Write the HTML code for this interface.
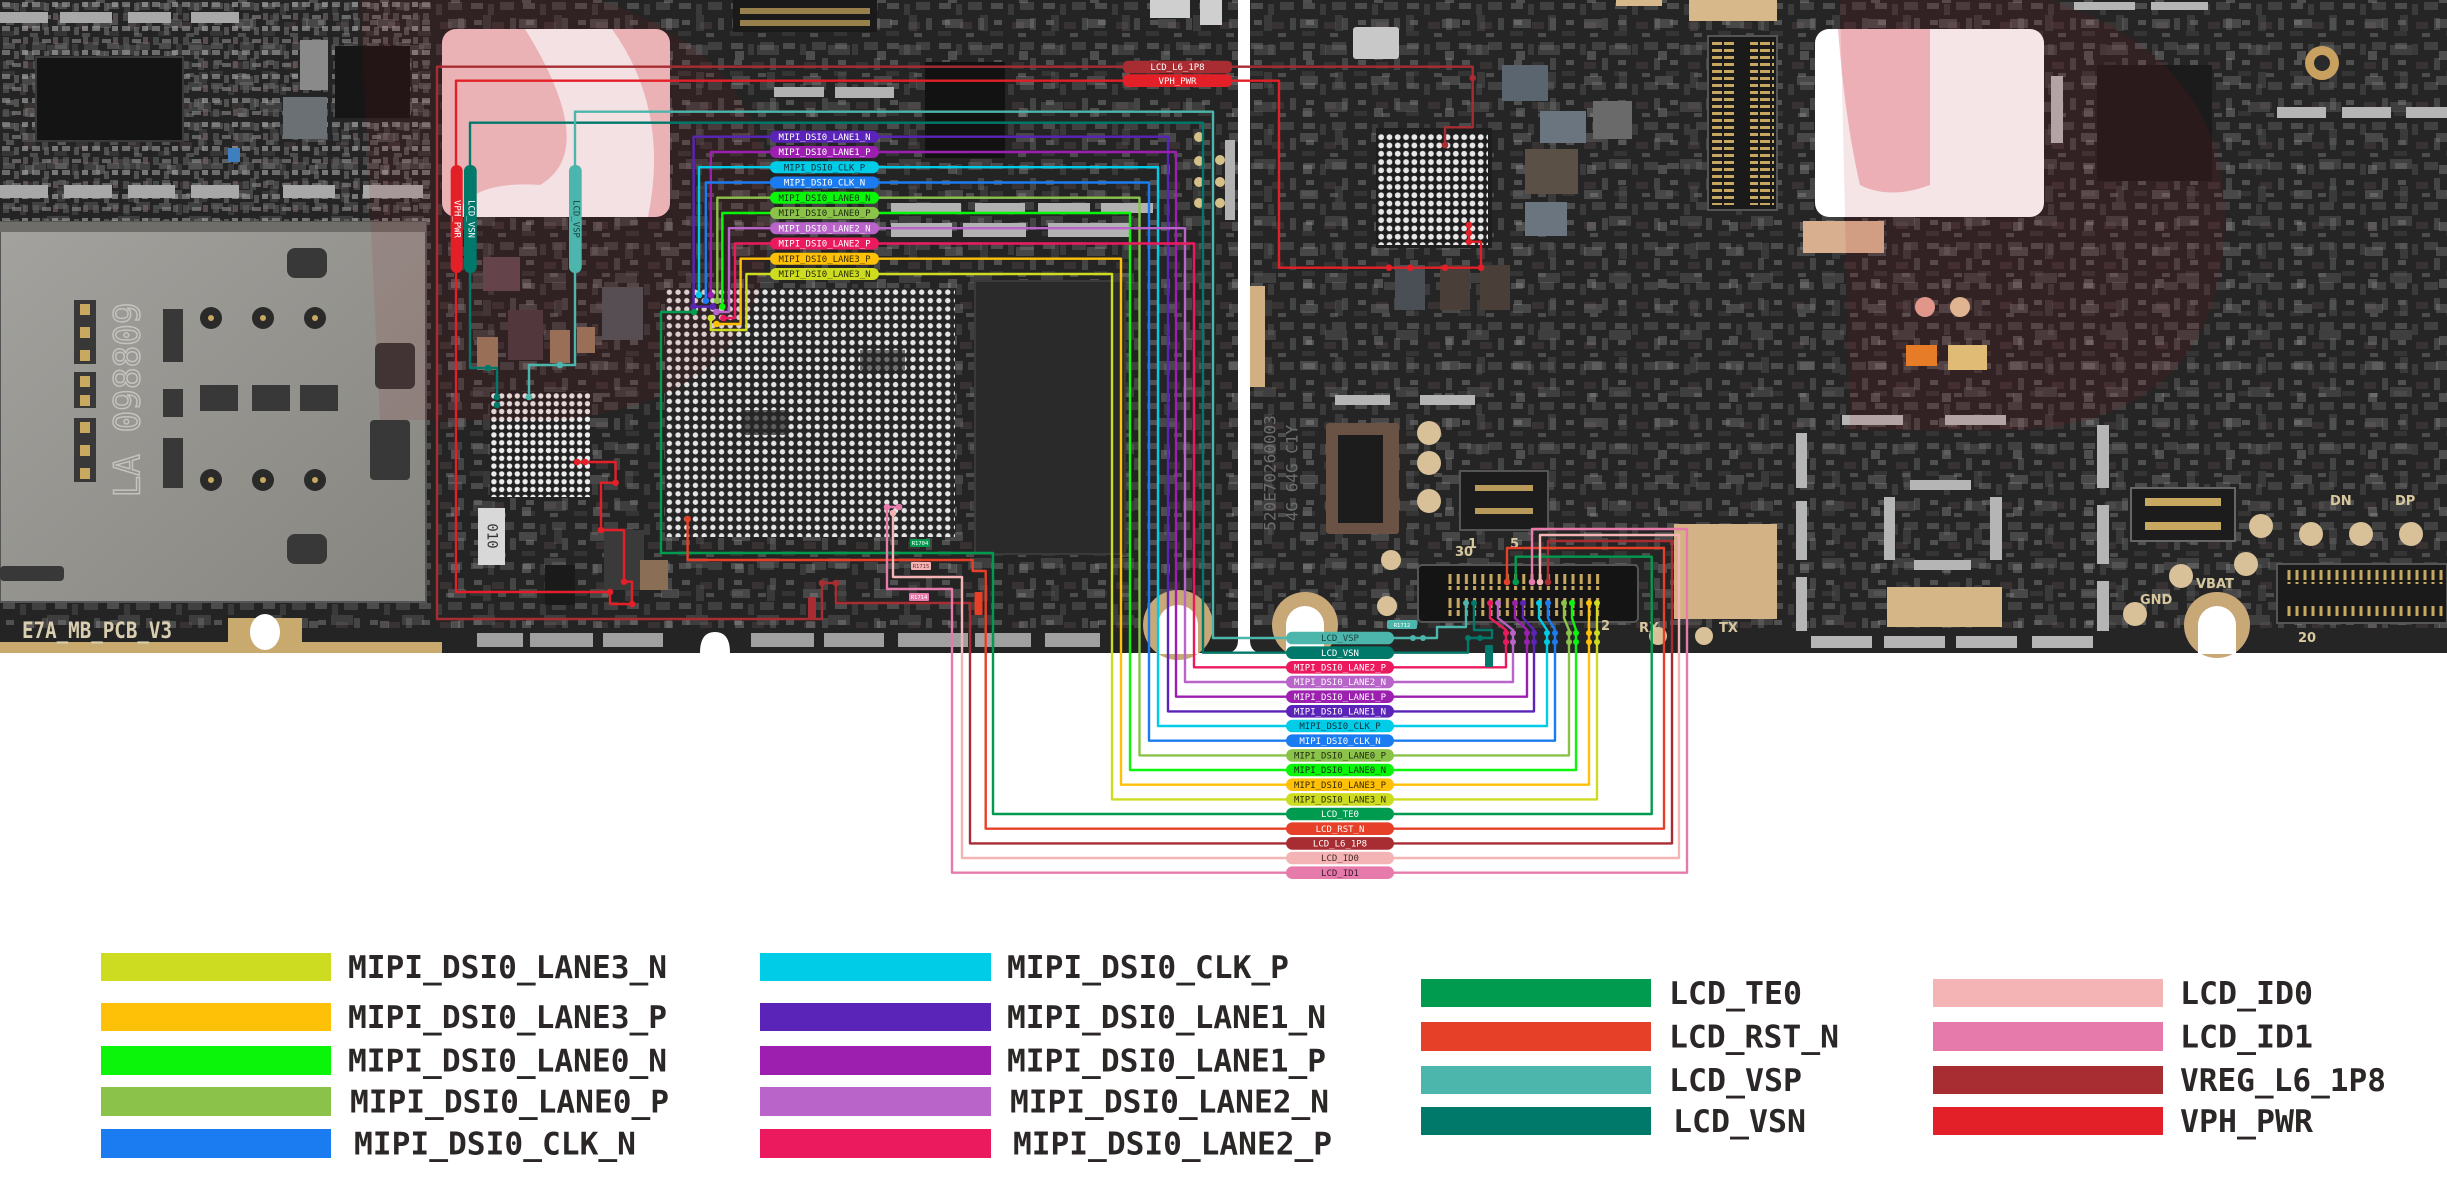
<!DOCTYPE html>
<html><head><meta charset="utf-8"><style>
html,body{margin:0;padding:0;background:#fff;}
svg{display:block;}
.lb{font-family:"DejaVu Sans Mono","Liberation Mono",monospace;font-size:9px;text-anchor:middle;}
.lg{font-family:"DejaVu Sans Mono","Liberation Mono",monospace;font-size:31px;font-weight:bold;fill:#2b2727;}
.ln{fill:none;stroke-width:2.4;stroke-linejoin:round;stroke-linecap:round;}
</style></head><body>
<svg width="2447" height="1179" viewBox="0 0 2447 1179" xmlns="http://www.w3.org/2000/svg">
<defs>
<pattern id="cmp" width="52" height="40" patternUnits="userSpaceOnUse">
<rect x="3" y="3" width="12" height="6" fill="#8c8c8c"/>
<rect x="20" y="4" width="6" height="11" fill="#5e5e5e"/>
<rect x="32" y="2" width="14" height="8" fill="#6e6e6e"/>
<rect x="6" y="20" width="8" height="5" fill="#9a9a9a"/>
<rect x="24" y="22" width="12" height="7" fill="#5a4848"/>
<rect x="42" y="18" width="6" height="12" fill="#7a7a7a"/>
<rect x="2" y="31" width="13" height="5" fill="#505050"/>
<rect x="30" y="33" width="8" height="4" fill="#8f8f8f"/>
</pattern>
<pattern id="cmpB" width="71" height="57" patternUnits="userSpaceOnUse" x="17" y="11">
<rect x="5" y="8" width="18" height="9" fill="#9a9a9a"/>
<rect x="40" y="4" width="8" height="16" fill="#6a6a6a"/>
<rect x="30" y="34" width="22" height="10" fill="#7c7c7c"/>
<rect x="8" y="40" width="9" height="9" fill="#b0b0b0"/>
</pattern>
<pattern id="cmp2" width="30" height="24" patternUnits="userSpaceOnUse">
<rect x="2" y="2" width="8" height="5" fill="#9a9a9a"/>
<rect x="14" y="3" width="5" height="8" fill="#707070"/>
<rect x="22" y="2" width="6" height="5" fill="#b0b0b0"/>
<rect x="3" y="13" width="6" height="8" fill="#606060"/>
<rect x="12" y="15" width="9" height="4" fill="#8a8a8a"/>
<rect x="23" y="13" width="5" height="7" fill="#7a6a6a"/>
</pattern>
<pattern id="bgaA" width="8.7" height="8.4" patternUnits="userSpaceOnUse" x="665" y="288"><circle cx="4.35" cy="4.2" r="2.7" fill="#e4e4e4"/></pattern>
<pattern id="bgaB" width="7.8" height="7.8" patternUnits="userSpaceOnUse" x="490" y="392"><circle cx="3.9" cy="3.9" r="2.7" fill="#ececec"/></pattern>
<pattern id="bgaC" width="8.3" height="8.3" patternUnits="userSpaceOnUse" x="1377" y="133"><circle cx="4.15" cy="4.15" r="2.9" fill="#e6e6e6"/></pattern>
<pattern id="pins" width="8.2" height="12" patternUnits="userSpaceOnUse" x="1446" y="574"><rect x="2.5" y="0" width="3" height="10" fill="#c8a860"/></pattern>
<pattern id="pins2" width="8" height="12" patternUnits="userSpaceOnUse" x="2285" y="570"><rect x="2.5" y="0" width="3" height="10" fill="#c8a860"/></pattern>
<pattern id="pinsV" width="12" height="7" patternUnits="userSpaceOnUse" x="1712" y="40"><rect x="0" y="2" width="10" height="3" fill="#c8a860"/></pattern>
<linearGradient id="sim" x1="0" y1="0" x2="1" y2="1"><stop offset="0" stop-color="#a3a29e"/><stop offset="1" stop-color="#86857f"/></linearGradient>
</defs>
<rect width="2447" height="1179" fill="#fff"/>

<!-- ===== BOARDS ===== -->
<path d="M0 0 H1238 V640 Q1238 653 1225 653 H0 Z" fill="#242424"/>
<path d="M1250 0 H2447 V653 H1263 Q1250 653 1250 640 Z" fill="#252525"/>
<rect x="0" y="0" width="1238" height="628" fill="url(#cmp)" opacity="0.38"/>
<rect x="1250" y="0" width="1197" height="628" fill="url(#cmp)" opacity="0.38"/>
<rect x="0" y="0" width="1238" height="628" fill="url(#cmpB)" opacity="0.3"/>
<rect x="1250" y="0" width="1197" height="628" fill="url(#cmpB)" opacity="0.3"/>
<rect x="0" y="0" width="430" height="222" fill="url(#cmp2)" opacity="0.6"/>

<!-- left board top-left details -->
<g fill="#a8a8a8">
<rect x="0" y="12" width="48" height="11"/><rect x="60" y="12" width="52" height="11"/><rect x="128" y="12" width="43" height="11"/><rect x="191" y="12" width="48" height="11"/>
<rect x="0" y="185" width="48" height="13"/><rect x="64" y="185" width="48" height="13"/><rect x="128" y="185" width="47" height="13"/><rect x="191" y="185" width="48" height="13"/><rect x="283" y="185" width="52" height="13"/><rect x="363" y="185" width="60" height="13"/>
</g>
<rect x="36" y="57" width="147" height="84" fill="#141414" stroke="#3a3a3a" stroke-width="2"/>
<rect x="335" y="46" width="75" height="72" fill="#161616"/>
<rect x="283" y="97" width="44" height="42" fill="#6b7075"/>
<rect x="300" y="40" width="28" height="50" fill="#8a8a8a"/>
<rect x="228" y="148" width="12" height="14" fill="#3f7fbf"/>

<!-- SIM tray -->
<rect x="0" y="222" width="426" height="380" fill="url(#sim)" stroke="#555" stroke-width="2"/>
<rect x="0" y="222" width="426" height="10" fill="#6e6d69"/>
<g fill="#383838">
<rect x="74" y="300" width="22" height="64"/><rect x="74" y="372" width="22" height="36"/><rect x="74" y="418" width="22" height="64"/>
<rect x="163" y="309" width="20" height="53"/><rect x="163" y="389" width="20" height="28"/><rect x="163" y="438" width="20" height="50"/>
<rect x="200" y="385" width="38" height="26"/><rect x="252" y="385" width="38" height="26"/><rect x="300" y="385" width="38" height="26"/>
<rect x="287" y="248" width="40" height="30" rx="8"/><rect x="375" y="343" width="40" height="46" rx="6"/><rect x="287" y="534" width="40" height="30" rx="8"/>
<rect x="0" y="566" width="64" height="15" rx="4"/><rect x="370" y="420" width="40" height="60" rx="4"/>
</g>
<g fill="#c9a860">
<rect x="80" y="304" width="10" height="11"/><rect x="80" y="327" width="10" height="11"/><rect x="80" y="350" width="10" height="11"/>
<rect x="80" y="376" width="10" height="11"/><rect x="80" y="395" width="10" height="11"/>
<rect x="80" y="422" width="10" height="11"/><rect x="80" y="445" width="10" height="11"/><rect x="80" y="468" width="10" height="11"/>
</g>
<g fill="#2a2a2a"><circle cx="211" cy="318" r="11"/><circle cx="263" cy="318" r="11"/><circle cx="315" cy="318" r="11"/><circle cx="211" cy="480" r="11"/><circle cx="263" cy="480" r="11"/><circle cx="315" cy="480" r="11"/></g>
<g fill="#c9a860"><circle cx="211" cy="318" r="3"/><circle cx="263" cy="318" r="3"/><circle cx="315" cy="318" r="3"/><circle cx="211" cy="480" r="3"/><circle cx="263" cy="480" r="3"/><circle cx="315" cy="480" r="3"/></g>
<text x="128" y="400" transform="rotate(-90 128 400)" text-anchor="middle" dominant-baseline="central" font-family="DejaVu Sans Mono, monospace" font-size="36" fill="none" stroke="#c4c3be" stroke-width="1.5">LA 098809</text>

<!-- left logo -->
<rect x="442" y="29" width="228" height="188" rx="14" fill="#f4c4c8"/>
<path d="M525 29 H612 Q670 110 648 217 H455 Q470 180 540 185 Q600 150 525 29 Z" fill="#ffffff" opacity="0.9"/>

<!-- components between SIM and BGA -->
<rect x="483" y="257" width="37" height="34" fill="#5e4a50"/>
<rect x="508" y="310" width="35" height="50" fill="#4a3c40"/>
<rect x="602" y="287" width="41" height="53" fill="#4f5559"/>
<rect x="477" y="337" width="21" height="33" fill="#9a7a5e"/>
<rect x="550" y="330" width="20" height="33" fill="#9a7a5e"/>
<rect x="577" y="327" width="18" height="26" fill="#9a7a5e"/>
<rect x="478" y="508" width="27" height="57" fill="#d8d8d8"/>
<text x="491.5" y="536" transform="rotate(90 491.5 536)" text-anchor="middle" dominant-baseline="central" font-family="DejaVu Sans Mono, monospace" font-size="14" fill="#333">010</text>
<rect x="604" y="530" width="40" height="60" fill="#3a3a3a"/>
<rect x="545" y="565" width="30" height="40" fill="#1a1a1a"/>
<rect x="640" y="560" width="28" height="30" fill="#8a6e55"/>

<!-- main BGA -->
<rect x="665" y="288" width="290" height="249" fill="#262626"/>
<rect x="665" y="288" width="290" height="249" fill="url(#bgaA)"/>
<rect x="745" y="410" width="40" height="25" fill="#262626" opacity="0.7"/>
<rect x="860" y="350" width="45" height="20" fill="#262626" opacity="0.6"/>
<!-- small BGA -->
<rect x="490" y="392" width="100" height="105" fill="#222"/>
<rect x="490" y="392" width="100" height="105" fill="url(#bgaB)"/>
<!-- dark chip -->
<rect x="975" y="281" width="150" height="273" fill="#2a2a2a" stroke="#3a3a3a" stroke-width="2"/>
<!-- black chip top -->
<rect x="925" y="62" width="80" height="96" fill="#121212"/>
<!-- top connector left board -->
<rect x="733" y="0" width="144" height="32" fill="#1a1a1a"/>
<rect x="740" y="8" width="130" height="6" fill="#b89a5a" opacity="0.8"/>
<rect x="740" y="20" width="130" height="6" fill="#b89a5a" opacity="0.8"/>
<!-- silver strips near top stack -->
<g fill="#b2b2b2">
<rect x="835" y="87" width="59" height="11"/><rect x="774" y="87" width="50" height="10"/>
<rect x="891" y="203" width="70" height="10"/><rect x="975" y="203" width="50" height="10"/><rect x="1038" y="203" width="52" height="10"/><rect x="1101" y="203" width="52" height="10"/>
<rect x="891" y="223" width="61" height="14"/><rect x="963" y="223" width="63" height="14"/><rect x="1048" y="223" width="82" height="14"/>
<rect x="1225" y="140" width="10" height="80"/>
</g>
<g fill="#d6c08a"><circle cx="1199" cy="137" r="5"/><circle cx="1199" cy="161" r="5"/><circle cx="1199" cy="182" r="5"/><circle cx="1199" cy="203" r="5"/><circle cx="1220" cy="160" r="5"/><circle cx="1220" cy="182" r="5"/><circle cx="1220" cy="203" r="5"/></g>
<g fill="#cfcfcf"><rect x="1150" y="0" width="40" height="18"/><rect x="1200" y="0" width="22" height="25"/></g>

<!-- left board bottom strip -->
<g fill="#a0a0a0">
<rect x="477" y="633" width="46" height="14"/><rect x="530" y="633" width="63" height="14"/><rect x="603" y="633" width="60" height="14"/>
<rect x="751" y="633" width="63" height="14"/><rect x="824" y="633" width="60" height="14"/><rect x="898" y="633" width="70" height="14"/><rect x="975" y="633" width="56" height="14"/><rect x="1045" y="633" width="55" height="14"/>
</g>
<rect x="0" y="642" width="442" height="11" fill="#c8aa6e"/>
<rect x="228" y="618" width="74" height="35" fill="#c8aa6e"/>
<ellipse cx="265" cy="632" rx="15" ry="18" fill="#ffffff"/>
<text x="22" y="638" font-family="DejaVu Sans Mono, monospace" font-weight="bold" font-size="22" fill="#d9cfb0" textLength="150" lengthAdjust="spacingAndGlyphs">E7A_MB_PCB_V3</text>
<path d="M700 653 Q700 632 715 632 Q730 632 730 653 Z" fill="#fff"/>
<circle cx="1178" cy="625" r="35" fill="#c9a878"/>
<circle cx="1178" cy="625" r="20" fill="#fff"/>
<rect x="1158" y="625" width="40" height="29" fill="#fff"/>

<!-- ===== RIGHT BOARD details ===== -->
<rect x="1353" y="27" width="46" height="32" fill="#c8c8c8" rx="3"/>
<rect x="1376" y="128" width="116" height="120" fill="#1e1e1e"/>
<rect x="1377" y="133" width="111" height="112" fill="url(#bgaC)"/>
<rect x="1502" y="65" width="46" height="36" fill="#5b6570"/>
<rect x="1540" y="111" width="46" height="32" fill="#6a7580"/>
<rect x="1525" y="149" width="53" height="45" fill="#5a5045"/>
<rect x="1525" y="202" width="42" height="34" fill="#6a7580"/>
<rect x="1593" y="101" width="39" height="38" fill="#6a6a6a"/>
<rect x="1395" y="265" width="30" height="45" fill="#4a4f55"/>
<rect x="1440" y="265" width="30" height="45" fill="#4a3f38"/>
<rect x="1480" y="265" width="30" height="45" fill="#4a3f38"/>
<rect x="1708" y="36" width="69" height="174" fill="#1a1a1a" stroke="#555" stroke-width="2"/>
<rect x="1712" y="40" width="24" height="165" fill="url(#pinsV)"/>
<rect x="1750" y="40" width="24" height="165" fill="url(#pinsV)"/>
<rect x="1689" y="0" width="88" height="21" fill="#d6b88a"/>
<rect x="1616" y="0" width="46" height="6" fill="#d6b88a"/>
<rect x="1803" y="221" width="81" height="32" fill="#d8b090"/>
<rect x="1250" y="286" width="15" height="101" fill="#d0b080"/>
<!-- right logo -->
<rect x="1815" y="29" width="229" height="188" rx="14" fill="#ffffff"/>
<path d="M1838 29 H1930 V185 Q1890 200 1860 185 Q1845 120 1838 29 Z" fill="#f4c3c8"/>
<rect x="2097" y="65" width="115" height="116" fill="#1b1b1b"/>
<g fill="#b5b5b5">
<rect x="2277" y="107" width="49" height="11"/><rect x="2342" y="107" width="49" height="11"/><rect x="2406" y="107" width="41" height="11"/>
<rect x="2074" y="2" width="61" height="8"/><rect x="2151" y="2" width="57" height="8"/><rect x="2051" y="76" width="12" height="67"/>
<rect x="1842" y="415" width="61" height="10"/><rect x="1945" y="415" width="61" height="10"/><rect x="1910" y="480" width="61" height="10"/><rect x="1914" y="560" width="57" height="10"/>
<rect x="1796" y="433" width="11" height="55"/><rect x="1796" y="501" width="11" height="59"/><rect x="1796" y="577" width="11" height="54"/>
<rect x="1884" y="497" width="11" height="63"/><rect x="1990" y="497" width="12" height="63"/>
<rect x="2097" y="425" width="12" height="63"/><rect x="2097" y="505" width="12" height="59"/><rect x="2097" y="581" width="12" height="50"/>
<rect x="1811" y="636" width="61" height="12"/><rect x="1884" y="636" width="61" height="12"/><rect x="1956" y="636" width="61" height="12"/><rect x="2032" y="636" width="61" height="12"/>
<rect x="1335" y="395" width="55" height="10"/><rect x="1420" y="395" width="55" height="10"/>
</g>
<rect x="1906" y="345" width="31" height="21" fill="#f08a2a"/>
<rect x="1948" y="345" width="39" height="25" fill="#e8d080"/>
<circle cx="1925" cy="307" r="10" fill="#e8a898"/>
<circle cx="1960" cy="307" r="10" fill="#e8c8a0"/>
<circle cx="2322" cy="63" r="17" fill="#c8a060"/>
<circle cx="2322" cy="63" r="8" fill="#2a2a2a"/>
<!-- gold pads -->
<rect x="1674" y="524" width="103" height="95" fill="#d3b385"/>
<rect x="1887" y="587" width="115" height="40" fill="#d5b686"/>
<!-- connectors -->
<rect x="1326" y="423" width="73" height="111" fill="#6a5244" rx="3"/>
<rect x="1338" y="435" width="45" height="88" fill="#1c1c1c"/>
<g fill="#d8c098"><circle cx="1429" cy="433" r="12"/><circle cx="1429" cy="463" r="12"/><circle cx="1429" cy="501" r="12"/><circle cx="1391" cy="560" r="10"/><circle cx="1387" cy="606" r="10"/>
<circle cx="2261" cy="526" r="12"/><circle cx="2311" cy="534" r="12"/><circle cx="2361" cy="534" r="12"/><circle cx="2411" cy="534" r="12"/><circle cx="2246" cy="564" r="12"/><circle cx="2181" cy="576" r="12"/><circle cx="2135" cy="614" r="12"/>
<circle cx="1658" cy="636" r="9"/><circle cx="1704" cy="636" r="9"/></g>
<rect x="1460" y="471" width="88" height="59" fill="#1c1c1c" stroke="#555" stroke-width="2"/>
<rect x="1475" y="485" width="58" height="6" fill="#b89a5a"/><rect x="1475" y="508" width="58" height="6" fill="#b89a5a"/>
<rect x="2131" y="488" width="104" height="53" fill="#1c1c1c" stroke="#666" stroke-width="2"/>
<rect x="2145" y="498" width="76" height="8" fill="#c8a860"/><rect x="2145" y="522" width="76" height="8" fill="#c8a860"/>
<rect x="1418" y="565" width="220" height="57" fill="#141414" stroke="#555" stroke-width="2" rx="4"/>
<rect x="1446" y="574" width="156" height="16" fill="url(#pins)"/>
<rect x="1446" y="598" width="156" height="18" fill="url(#pins)"/>
<rect x="2277" y="564" width="170" height="59" fill="#1a1a1a" stroke="#555" stroke-width="2"/>
<rect x="2285" y="570" width="162" height="14" fill="url(#pins2)"/>
<rect x="2285" y="604" width="162" height="14" fill="url(#pins2)"/>
<circle cx="1305" cy="625" r="33" fill="#c9a878"/><circle cx="1305" cy="625" r="19" fill="#fff"/><rect x="1286" y="625" width="38" height="29" fill="#fff"/>
<circle cx="2217" cy="625" r="33" fill="#c9a878"/><circle cx="2217" cy="625" r="19" fill="#fff"/><rect x="2198" y="625" width="38" height="29" fill="#fff"/>
<g font-family="DejaVu Sans, sans-serif" font-weight="bold" fill="#d8c8a0" font-size="13">
<text x="1639" y="632">RX</text><text x="1719" y="632">TX</text><text x="1601" y="630">2</text><text x="2298" y="642">20</text>
<text x="2140" y="604">GND</text><text x="2196" y="588">VBAT</text><text x="2330" y="505">DN</text><text x="2395" y="505">DP</text>
<text x="1468" y="548">1</text><text x="1510" y="548">5</text><text x="1455" y="556">30</text>
</g>
<text x="1270" y="473" transform="rotate(-90 1270 473)" text-anchor="middle" dominant-baseline="central" font-family="DejaVu Sans Mono, monospace" font-size="16" fill="#6d6d6d">520E70260003</text>
<text x="1292" y="473" transform="rotate(-90 1292 473)" text-anchor="middle" dominant-baseline="central" font-family="DejaVu Sans Mono, monospace" font-size="16" fill="#6d6d6d">4G 64G C1Y</text>

<!-- watermarks -->
<path d="M360 0 H600 Q780 60 770 230 Q760 400 560 420 H380 Z" fill="#a0141e" opacity="0.1"/>
<path d="M1840 0 H2050 Q2230 60 2225 230 Q2215 420 2020 430 H1850 Z" fill="#a0141e" opacity="0.11"/>

<!-- ===== LINES ===== -->
<path class="ln" stroke="#A72D33" d="M437 619 V66.7 H1472.7 V127.3 H1445 V145"/>
<path class="ln" stroke="#A72D33" d="M437 619 H822 V583 H836 V603 H970 V843.4 H1286"/>
<path class="ln" stroke="#A72D33" d="M1394 843.4 H1672 V541 H1548 V582"/>
<path class="ln" stroke="#E32028" d="M456 592 V80.7 H1279 V267.7 H1481 V241.7 H1469 V225"/>
<path class="ln" stroke="#E32028" d="M456 592 H610 V604 H632"/>
<path class="ln" stroke="#E32028" d="M577 462 H615.6 V482.7 H601 V530 H624 V581.7 H632 V604"/>
<path class="ln" stroke="#00796B" d="M497 397 V368 H470 V122.7 H1203 V652.7 H1286"/>
<path class="ln" stroke="#00796B" d="M1394 652.7 H1468 V638 H1492 V630 H1474 V603"/>
<path class="ln" stroke="#4DB6AC" d="M529 397 V365 H575 V111.7 H1213 V638 H1286"/>
<path class="ln" stroke="#4DB6AC" d="M1394 638 H1437 V627 H1466 V603"/>
<path class="ln" stroke="#009B4E" d="M694 312 H661 V553 H993 V814 H1286"/>
<path class="ln" stroke="#009B4E" d="M1394 814 H1651.7 V556.7 H1515.7 V582"/>
<path class="ln" stroke="#E74029" d="M687.6 519 V560 H972.7 V571 H985.7 V828.7 H1286"/>
<path class="ln" stroke="#E74029" d="M1394 828.7 H1664 V548 H1507 V582"/>
<path class="ln" stroke="#F4B3B4" d="M893 513 V577 H962 V858 H1286"/>
<path class="ln" stroke="#F4B3B4" d="M1394 858 H1679 V535 H1540 V582"/>
<path class="ln" stroke="#E67AAB" d="M899 507 H887 V589 H952 V872.7 H1286"/>
<path class="ln" stroke="#E67AAB" d="M1394 872.7 H1687 V529 H1532 V582"/>
<path class="ln" stroke="#5B24B8" d="M712.7 306.7 H693.6 V136.7 H1168 V711.4 H1286 M1394 711.4 H1534 V630 L1523 618 V603"/>
<path class="ln" stroke="#9C1FB0" d="M710.8 295 V152 H1176 V696.7 H1286 M1394 696.7 H1527 V630 L1515 618 V603"/>
<path class="ln" stroke="#00CCE8" d="M699 295 V167.2 H1158 V726 H1286 M1394 726 H1547 V630 L1539 618 V603"/>
<path class="ln" stroke="#1A7CF0" d="M705.8 300.7 V182.5 H1149 V740.7 H1286 M1394 740.7 H1555 V630 L1548 618 V603"/>
<path class="ln" stroke="#8BC34A" d="M717.3 300.7 V197.7 H1139.5 V755.4 H1286 M1394 755.4 H1569 V630 L1564 618 V603"/>
<path class="ln" stroke="#0BF50B" d="M722.3 306.7 V213 H1130 V770 H1286 M1394 770 H1576 V630 L1572 618 V603"/>
<path class="ln" stroke="#B964C8" d="M716.5 312 H729 V228.2 H1185 V682 H1286 M1394 682 H1513 V630 L1498 618 V603"/>
<path class="ln" stroke="#EB1A5E" d="M723.4 318 H735 V243.5 H1194 V667.3 H1286 M1394 667.3 H1506 V630 L1490 618 V603"/>
<path class="ln" stroke="#FFC107" d="M716.5 324 H740.6 V258.7 H1121 V784.7 H1286 M1394 784.7 H1589 V603"/>
<path class="ln" stroke="#CDDC21" d="M710.8 318 V330 H746.4 V274 H1112 V799.4 H1286 M1394 799.4 H1597 V603"/>

<!-- dots -->
<g>
<circle cx="712.7" cy="306.7" r="3.3" fill="#5B24B8"/><circle cx="693.6" cy="306.7" r="3.3" fill="#5B24B8"/>
<circle cx="710.8" cy="295" r="3.3" fill="#9C1FB0"/><circle cx="699" cy="295" r="3.3" fill="#00CCE8"/>
<circle cx="705.8" cy="300.7" r="3.3" fill="#1A7CF0"/><circle cx="717.3" cy="300.7" r="3.3" fill="#8BC34A"/>
<circle cx="722.3" cy="306.7" r="3.3" fill="#0BF50B"/><circle cx="716.5" cy="312" r="3.3" fill="#B964C8"/>
<circle cx="723.4" cy="318" r="3.3" fill="#EB1A5E"/><circle cx="716.5" cy="324" r="3.3" fill="#FFC107"/>
<circle cx="710.8" cy="318" r="3.3" fill="#CDDC21"/><circle cx="694" cy="312" r="3.3" fill="#009B4E"/>
<circle cx="687.6" cy="519" r="3.3" fill="#E74029"/><circle cx="893" cy="513" r="3.3" fill="#F4B3B4"/>
<circle cx="887" cy="507" r="3.3" fill="#E67AAB"/><circle cx="899" cy="507" r="3.3" fill="#E67AAB"/>
<circle cx="497" cy="397" r="3.3" fill="#00796B"/><circle cx="497" cy="405" r="3.3" fill="#00796B"/><circle cx="488" cy="368" r="3.3" fill="#00796B"/>
<circle cx="529" cy="397" r="3.3" fill="#4DB6AC"/><circle cx="560" cy="365" r="3.3" fill="#4DB6AC"/>
<circle cx="577" cy="462" r="3.3" fill="#E32028"/><circle cx="585" cy="462" r="3.3" fill="#E32028"/><circle cx="615.6" cy="482.7" r="3.3" fill="#E32028"/><circle cx="601" cy="530" r="3.3" fill="#E32028"/><circle cx="624" cy="581.7" r="3.3" fill="#E32028"/><circle cx="632" cy="604" r="3.3" fill="#E32028"/><circle cx="610" cy="592" r="3.3" fill="#E32028"/>
<circle cx="822" cy="583" r="3.3" fill="#A72D33"/><circle cx="836" cy="583" r="3.3" fill="#A72D33"/>
<circle cx="1445" cy="145" r="3.3" fill="#A72D33"/><circle cx="1472.7" cy="78" r="3.3" fill="#A72D33"/>
<circle cx="1469" cy="225" r="3.3" fill="#E32028"/><circle cx="1469" cy="233" r="3.3" fill="#E32028"/><circle cx="1469" cy="241.7" r="3.3" fill="#E32028"/>
<circle cx="1389" cy="267.7" r="3.3" fill="#E32028"/><circle cx="1410" cy="267.7" r="3.3" fill="#E32028"/><circle cx="1445" cy="267.7" r="3.3" fill="#E32028"/><circle cx="1481" cy="267.7" r="3.3" fill="#E32028"/>
<circle cx="1507" cy="582" r="3.3" fill="#E74029"/><circle cx="1515.7" cy="582" r="3.3" fill="#009B4E"/><circle cx="1532" cy="582" r="3.3" fill="#E67AAB"/><circle cx="1540" cy="582" r="3.3" fill="#F4B3B4"/><circle cx="1548" cy="582" r="3.3" fill="#A72D33"/>
<circle cx="1466" cy="603" r="3" fill="#4DB6AC"/><circle cx="1474" cy="603" r="3" fill="#00796B"/>
<circle cx="1413" cy="638" r="3" fill="#4DB6AC"/><circle cx="1423" cy="638" r="3" fill="#4DB6AC"/><circle cx="1468" cy="638" r="3" fill="#00796B"/><circle cx="1480" cy="638" r="3" fill="#00796B"/>
<circle cx="1490" cy="603" r="3" fill="#EB1A5E"/><circle cx="1506" cy="633" r="3" fill="#EB1A5E"/><circle cx="1506" cy="642" r="3" fill="#EB1A5E"/>
<circle cx="1498" cy="603" r="3" fill="#B964C8"/><circle cx="1513" cy="633" r="3" fill="#B964C8"/><circle cx="1513" cy="642" r="3" fill="#B964C8"/>
<circle cx="1515" cy="603" r="3" fill="#9C1FB0"/><circle cx="1527" cy="633" r="3" fill="#9C1FB0"/><circle cx="1527" cy="642" r="3" fill="#9C1FB0"/>
<circle cx="1523" cy="603" r="3" fill="#5B24B8"/><circle cx="1534" cy="633" r="3" fill="#5B24B8"/><circle cx="1534" cy="642" r="3" fill="#5B24B8"/>
<circle cx="1539" cy="603" r="3" fill="#00CCE8"/><circle cx="1547" cy="633" r="3" fill="#00CCE8"/><circle cx="1547" cy="642" r="3" fill="#00CCE8"/>
<circle cx="1548" cy="603" r="3" fill="#1A7CF0"/><circle cx="1555" cy="633" r="3" fill="#1A7CF0"/><circle cx="1555" cy="642" r="3" fill="#1A7CF0"/>
<circle cx="1564" cy="603" r="3" fill="#8BC34A"/><circle cx="1569" cy="633" r="3" fill="#8BC34A"/><circle cx="1569" cy="642" r="3" fill="#8BC34A"/>
<circle cx="1572" cy="603" r="3" fill="#0BF50B"/><circle cx="1576" cy="633" r="3" fill="#0BF50B"/><circle cx="1576" cy="642" r="3" fill="#0BF50B"/>
<circle cx="1589" cy="603" r="3" fill="#FFC107"/><circle cx="1589" cy="633" r="3" fill="#FFC107"/><circle cx="1589" cy="642" r="3" fill="#FFC107"/>
<circle cx="1597" cy="603" r="3" fill="#CDDC21"/><circle cx="1597" cy="633" r="3" fill="#CDDC21"/><circle cx="1597" cy="642" r="3" fill="#CDDC21"/>
</g>

<!-- small R labels -->
<g font-family="DejaVu Sans Mono, monospace" font-size="5.5" text-anchor="middle">
<rect x="1387" y="620" width="30" height="9" rx="2" fill="#4DB6AC"/><text x="1402" y="627" fill="#fff">R1712</text>
<rect x="910" y="539" width="20" height="8" rx="1" fill="#009B4E"/><text x="920" y="545" fill="#fff">R1704</text>
<rect x="911" y="562" width="20" height="8" rx="1" fill="#F4B3B4"/><text x="921" y="568" fill="#633">R1715</text>
<rect x="909" y="593" width="20" height="8" rx="1" fill="#E67AAB"/><text x="919" y="599" fill="#fff">R1714</text>
<rect x="974.5" y="592" width="8" height="23" rx="1" fill="#E74029"/>
<rect x="808" y="597" width="8" height="22" rx="1" fill="#A72D33"/>
<rect x="1485" y="645" width="8" height="22" rx="1" fill="#00796B"/>
</g>

<!-- vertical labels -->
<rect x="450.7" y="165" width="12" height="108" rx="6" fill="#E32028"/>
<text class="lb" x="456.7" y="219" transform="rotate(90 456.7 219)" dominant-baseline="central" fill="#fff">VPH_PWR</text>
<rect x="464" y="165" width="12.7" height="108" rx="6" fill="#00796B"/>
<text class="lb" x="470.3" y="219" transform="rotate(90 470.3 219)" dominant-baseline="central" fill="#fff">LCD_VSN</text>
<rect x="569" y="165" width="12.7" height="108" rx="6" fill="#4DB6AC"/>
<text class="lb" x="575.3" y="219" transform="rotate(90 575.3 219)" dominant-baseline="central" fill="#17423d">LCD_VSP</text>

<!-- top L6 / VPH labels -->
<rect x="1123" y="60.7" width="109" height="12.6" rx="5" fill="#A72D33"/>
<text class="lb" x="1177.5" y="70.2" fill="#fff">LCD_L6_1P8</text>
<rect x="1123" y="74.3" width="109" height="12.7" rx="5" fill="#E32028"/>
<text class="lb" x="1177.5" y="83.8" fill="#fff">VPH_PWR</text>

<!-- top stack labels -->
<g>
<rect x="770" y="130.7" width="109" height="12" rx="6" fill="#5B24B8"/><text class="lb" x="824.5" y="139.9" fill="#fff">MIPI_DSI0_LANE1_N</text>
<rect x="770" y="146" width="109" height="12" rx="6" fill="#9C1FB0"/><text class="lb" x="824.5" y="155.2" fill="#fff">MIPI_DSI0_LANE1_P</text>
<rect x="770" y="161.2" width="109" height="12" rx="6" fill="#00CCE8"/><text class="lb" x="824.5" y="170.4" fill="#10303a">MIPI_DSI0_CLK_P</text>
<rect x="770" y="176.5" width="109" height="12" rx="6" fill="#1A7CF0"/><text class="lb" x="824.5" y="185.7" fill="#fff">MIPI_DSI0_CLK_N</text>
<rect x="770" y="191.7" width="109" height="12" rx="6" fill="#0BF50B"/><text class="lb" x="824.5" y="200.9" fill="#143014">MIPI_DSI0_LANE0_N</text>
<rect x="770" y="207" width="109" height="12" rx="6" fill="#8BC34A"/><text class="lb" x="824.5" y="216.2" fill="#1d2a10">MIPI_DSI0_LANE0_P</text>
<rect x="770" y="222.2" width="109" height="12" rx="6" fill="#B964C8"/><text class="lb" x="824.5" y="231.4" fill="#fff">MIPI_DSI0_LANE2_N</text>
<rect x="770" y="237.5" width="109" height="12" rx="6" fill="#EB1A5E"/><text class="lb" x="824.5" y="246.7" fill="#fff">MIPI_DSI0_LANE2_P</text>
<rect x="770" y="252.7" width="109" height="12" rx="6" fill="#FFC107"/><text class="lb" x="824.5" y="261.9" fill="#3a2a00">MIPI_DSI0_LANE3_P</text>
<rect x="770" y="268" width="109" height="12" rx="6" fill="#CDDC21"/><text class="lb" x="824.5" y="277.2" fill="#2a2d05">MIPI_DSI0_LANE3_N</text>
</g>

<!-- bottom stack labels -->
<g>
<rect x="1286" y="631.7" width="108" height="12.6" rx="6.3" fill="#4DB6AC"/><text class="lb" x="1340" y="641.2" fill="#17423d">LCD_VSP</text>
<rect x="1286" y="646.4" width="108" height="12.6" rx="6.3" fill="#00796B"/><text class="lb" x="1340" y="655.9" fill="#fff">LCD_VSN</text>
<rect x="1286" y="661" width="108" height="12.6" rx="6.3" fill="#EB1A5E"/><text class="lb" x="1340" y="670.5" fill="#fff">MIPI_DSI0_LANE2_P</text>
<rect x="1286" y="675.7" width="108" height="12.6" rx="6.3" fill="#B964C8"/><text class="lb" x="1340" y="685.2" fill="#fff">MIPI_DSI0_LANE2_N</text>
<rect x="1286" y="690.4" width="108" height="12.6" rx="6.3" fill="#9C1FB0"/><text class="lb" x="1340" y="699.9" fill="#fff">MIPI_DSI0_LANE1_P</text>
<rect x="1286" y="705" width="108" height="12.6" rx="6.3" fill="#5B24B8"/><text class="lb" x="1340" y="714.5" fill="#fff">MIPI_DSI0_LANE1_N</text>
<rect x="1286" y="719.7" width="108" height="12.6" rx="6.3" fill="#00CCE8"/><text class="lb" x="1340" y="729.2" fill="#10303a">MIPI_DSI0_CLK_P</text>
<rect x="1286" y="734.4" width="108" height="12.6" rx="6.3" fill="#1A7CF0"/><text class="lb" x="1340" y="743.9" fill="#fff">MIPI_DSI0_CLK_N</text>
<rect x="1286" y="749.1" width="108" height="12.6" rx="6.3" fill="#8BC34A"/><text class="lb" x="1340" y="758.6" fill="#1d2a10">MIPI_DSI0_LANE0_P</text>
<rect x="1286" y="763.7" width="108" height="12.6" rx="6.3" fill="#0BF50B"/><text class="lb" x="1340" y="773.2" fill="#143014">MIPI_DSI0_LANE0_N</text>
<rect x="1286" y="778.4" width="108" height="12.6" rx="6.3" fill="#FFC107"/><text class="lb" x="1340" y="787.9" fill="#3a2a00">MIPI_DSI0_LANE3_P</text>
<rect x="1286" y="793.1" width="108" height="12.6" rx="6.3" fill="#CDDC21"/><text class="lb" x="1340" y="802.6" fill="#2a2d05">MIPI_DSI0_LANE3_N</text>
<rect x="1286" y="807.7" width="108" height="12.6" rx="6.3" fill="#009B4E"/><text class="lb" x="1340" y="817.2" fill="#fff">LCD_TE0</text>
<rect x="1286" y="822.4" width="108" height="12.6" rx="6.3" fill="#E74029"/><text class="lb" x="1340" y="831.9" fill="#fff">LCD_RST_N</text>
<rect x="1286" y="837.1" width="108" height="12.6" rx="6.3" fill="#A72D33"/><text class="lb" x="1340" y="846.6" fill="#fff">LCD_L6_1P8</text>
<rect x="1286" y="851.7" width="108" height="12.6" rx="6.3" fill="#F4B3B4"/><text class="lb" x="1340" y="861.2" fill="#4a2a2a">LCD_ID0</text>
<rect x="1286" y="866.4" width="108" height="12.6" rx="6.3" fill="#E67AAB"/><text class="lb" x="1340" y="875.9" fill="#3a1a2a">LCD_ID1</text>
</g>

<!-- ===== LEGEND ===== -->
<g>
<rect x="101" y="953" width="230" height="28" fill="#CDDC21"/>
<rect x="101" y="1003" width="230" height="28" fill="#FFC107"/>
<rect x="101" y="1046" width="230" height="29" fill="#0BF50B"/>
<rect x="101" y="1087" width="230" height="29" fill="#8BC34A"/>
<rect x="101" y="1129" width="230" height="29" fill="#1A7CF0"/>
<text class="lg" x="348" y="978" textLength="319" lengthAdjust="spacingAndGlyphs">MIPI_DSI0_LANE3_N</text>
<text class="lg" x="348" y="1028" textLength="319" lengthAdjust="spacingAndGlyphs">MIPI_DSI0_LANE3_P</text>
<text class="lg" x="348" y="1071.5" textLength="319" lengthAdjust="spacingAndGlyphs">MIPI_DSI0_LANE0_N</text>
<text class="lg" x="350" y="1112.5" textLength="319" lengthAdjust="spacingAndGlyphs">MIPI_DSI0_LANE0_P</text>
<text class="lg" x="354" y="1154.5" textLength="282" lengthAdjust="spacingAndGlyphs">MIPI_DSI0_CLK_N</text>

<rect x="760" y="953" width="231" height="28" fill="#00CCE8"/>
<rect x="760" y="1003" width="231" height="28" fill="#5B24B8"/>
<rect x="760" y="1046" width="231" height="29" fill="#9C1FB0"/>
<rect x="760" y="1087" width="231" height="29" fill="#B964C8"/>
<rect x="760" y="1129" width="231" height="29" fill="#EB1A5E"/>
<text class="lg" x="1007" y="978" textLength="282" lengthAdjust="spacingAndGlyphs">MIPI_DSI0_CLK_P</text>
<text class="lg" x="1007" y="1028" textLength="319" lengthAdjust="spacingAndGlyphs">MIPI_DSI0_LANE1_N</text>
<text class="lg" x="1007" y="1071.5" textLength="319" lengthAdjust="spacingAndGlyphs">MIPI_DSI0_LANE1_P</text>
<text class="lg" x="1010" y="1112.5" textLength="319" lengthAdjust="spacingAndGlyphs">MIPI_DSI0_LANE2_N</text>
<text class="lg" x="1013" y="1154.5" textLength="319" lengthAdjust="spacingAndGlyphs">MIPI_DSI0_LANE2_P</text>

<rect x="1421" y="979" width="230" height="28" fill="#009B4E"/>
<rect x="1421" y="1022" width="230" height="29" fill="#E74029"/>
<rect x="1421" y="1066" width="230" height="28" fill="#4DB6AC"/>
<rect x="1421" y="1107" width="230" height="28" fill="#00796B"/>
<text class="lg" x="1669" y="1004" textLength="133" lengthAdjust="spacingAndGlyphs">LCD_TE0</text>
<text class="lg" x="1669" y="1047.5" textLength="170" lengthAdjust="spacingAndGlyphs">LCD_RST_N</text>
<text class="lg" x="1669" y="1091" textLength="133" lengthAdjust="spacingAndGlyphs">LCD_VSP</text>
<text class="lg" x="1673" y="1132" textLength="133" lengthAdjust="spacingAndGlyphs">LCD_VSN</text>

<rect x="1933" y="979" width="230" height="28" fill="#F4B3B4"/>
<rect x="1933" y="1022" width="230" height="29" fill="#E67AAB"/>
<rect x="1933" y="1066" width="230" height="28" fill="#A72D33"/>
<rect x="1933" y="1107" width="230" height="28" fill="#E32028"/>
<text class="lg" x="2180" y="1004" textLength="133" lengthAdjust="spacingAndGlyphs">LCD_ID0</text>
<text class="lg" x="2180" y="1047.5" textLength="133" lengthAdjust="spacingAndGlyphs">LCD_ID1</text>
<text class="lg" x="2180" y="1091" textLength="206" lengthAdjust="spacingAndGlyphs">VREG_L6_1P8</text>
<text class="lg" x="2180" y="1132" textLength="133" lengthAdjust="spacingAndGlyphs">VPH_PWR</text>
</g>
</svg>
</body></html>
